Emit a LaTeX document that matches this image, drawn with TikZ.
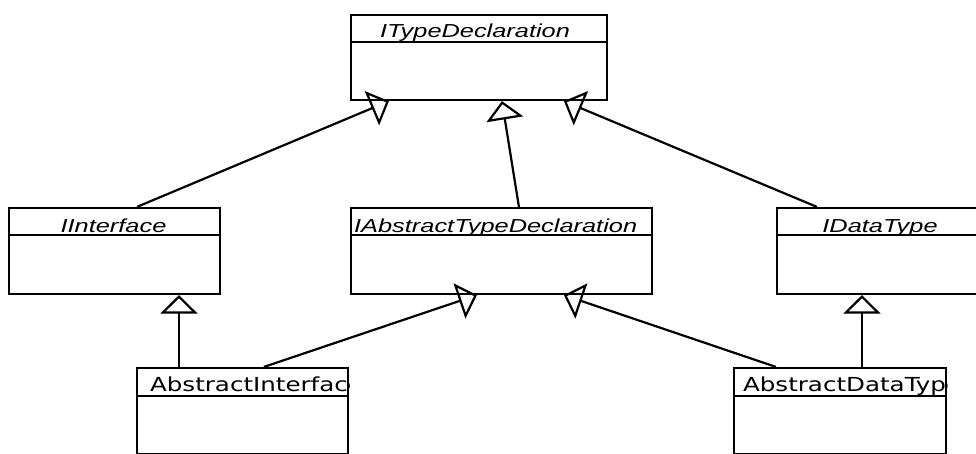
\documentclass[tikz,border=0pt]{standalone}
\usepackage{fontspec}
\newfontfamily\ifacefont{Liberation Sans}
\newfontfamily\clsfont{DejaVu Sans}
\usetikzlibrary{arrows.meta,calc}

\begin{document}
\begin{tikzpicture}[x=0.02cm,y=-0.02cm,line width=1.25pt]
\useasboundingbox (0,0) rectangle (976,453);
\clip (0,0) rectangle (976,453);

\tikzstyle{classbox}=[draw,rectangle,inner sep=0pt,minimum width=4.22cm,minimum height=1.72cm]
\tikzstyle{ifacename}=[font=\ifacefont\itshape\fontsize{10.7}{12}\selectfont,inner sep=0pt]
\tikzstyle{clsname}=[font=\clsfont\fontsize{11}{13}\selectfont,inner sep=0pt]
\tikzstyle{inherit}=[-{Triangle[open,length=10.5pt,width=21pt]}]

\node (decl) [classbox,minimum width=5.12cm,minimum height=1.7cm] at (479,57.5) {};
\node (iface) [classbox] at (114.5,251) {};
\node (iabs) [classbox,minimum width=6.02cm] at (501.5,251) {};
\node (idata) [classbox] at (882.5,251) {};
\node (ainterf) [classbox] at (242.5,411) {};
\node (adata) [classbox,minimum width=4.24cm] at (840,411) {};

\draw (decl.north west) ++(0,28) -- ++(258,0);
\draw (iface.north west) ++(0,28) -- ++(213,0);
\draw (iabs.north west) ++(0,28) -- ++(303,0);
\draw (idata.north west) ++(0,28) -- ++(213,0);
\draw (ainterf.north west) ++(0,29) -- ++(213,0);
\draw (adata.north west) ++(0,29) -- ++(214,0);

\node (declname) [ifacename,anchor=base] at (475,37) {\scalebox{1.35}[1]{ITypeDeclaration}};
\node (ifacename) [ifacename,anchor=base] at (113.5,232) {\scalebox{1.35}[1]{IInterface}};
\node (iabsname) [ifacename,anchor=base west] at (353,232) {\scalebox{1.35}[1]{IAbstractTypeDeclaration}};
\node (idataname) [ifacename,anchor=base] at (880,232) {\scalebox{1.35}[1]{IDataType}};

\begin{scope}
\clip (ainterf.south west) rectangle (ainterf.north east);
\node (ainterfname) [clsname,anchor=base west] at (149,391) {\scalebox{1.27}[1]{AbstractInterface}};
\end{scope}
\begin{scope}
\clip (adata.south west) rectangle (adata.north east);
\node (adataname) [clsname,anchor=base west] at (742,391) {\scalebox{1.27}[1]{AbstractDataType}};
\end{scope}

\draw[inherit] ($(iface.north west)+(129,0)$) -- ($(decl.south west)+(39,0)$);
\draw[inherit] ($(iabs.north west)+(169,0)$) -- ($(decl.south west)+(152,0)$);
\draw[inherit] ($(idata.north west)+(41,0)$) -- ($(decl.south west)+(214,0)$);
\draw[inherit] ($(ainterf.north west)+(43,0)$) -- ($(iface.south west)+(171,0)$);
\draw[inherit] ($(ainterf.north west)+(128,0)$) -- ($(iabs.south west)+(127,0)$);
\draw[inherit] ($(adata.north west)+(43,0)$) -- ($(iabs.south west)+(214,0)$);
\draw[inherit] ($(adata.north west)+(129,0)$) -- ($(idata.south west)+(86,0)$);
\end{tikzpicture}
\end{document}
